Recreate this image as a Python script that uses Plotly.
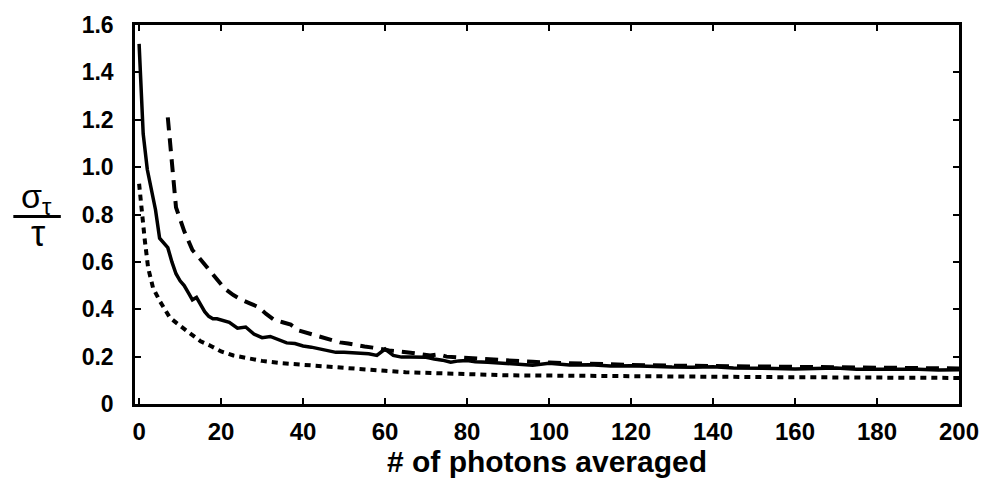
import plotly.graph_objects as go

# ---- data ----
solid_x = [0, 1, 2, 3, 4, 5, 6, 7, 8, 9, 10, 11, 12, 13, 14, 15, 16, 17, 18, 19, 20,
           22, 24, 26, 28, 30, 32, 34, 36, 38, 40, 42, 44, 46, 48, 50, 52, 54, 56, 58,
           60, 62, 64, 66, 68, 70, 72, 74, 76, 78, 80, 82, 85, 88, 92, 96, 100, 105,
           110, 115, 120, 125, 130, 135, 140, 145, 150, 155, 160, 165, 170, 175, 180,
           185, 190, 195, 200]
solid_y = [1.52, 1.14, 0.99, 0.90, 0.82, 0.70, 0.68, 0.66, 0.60, 0.55, 0.52, 0.50, 0.47,
           0.44, 0.45, 0.42, 0.39, 0.37, 0.36, 0.36, 0.355, 0.345, 0.32, 0.325, 0.295,
           0.28, 0.285, 0.27, 0.258, 0.255, 0.245, 0.24, 0.232, 0.225, 0.218, 0.218,
           0.215, 0.214, 0.212, 0.205, 0.232, 0.205, 0.198, 0.198, 0.196, 0.197, 0.19,
           0.185, 0.176, 0.182, 0.184, 0.178, 0.176, 0.172, 0.17, 0.164, 0.172, 0.165,
           0.166, 0.16, 0.162, 0.158, 0.156, 0.155, 0.157, 0.152, 0.152, 0.15, 0.148,
           0.15, 0.152, 0.147, 0.148, 0.146, 0.147, 0.144, 0.145]

dash_x = [7, 8, 8.5, 9, 11, 13, 15, 17, 19, 21, 23, 25, 27, 29, 31, 33, 35, 37, 39, 41,
          43, 45, 47, 49, 51, 53, 55, 57, 59, 61, 63, 65, 67, 69, 71, 73, 75, 77, 80, 84,
          88, 92, 96, 100, 105, 110, 115, 120, 130, 140, 150, 160, 170, 180, 190, 200]
dash_y = [1.21, 1.02, 0.91, 0.83, 0.73, 0.65, 0.61, 0.57, 0.53, 0.485, 0.46, 0.44, 0.425,
          0.41, 0.38, 0.355, 0.345, 0.335, 0.31, 0.30, 0.29, 0.28, 0.27, 0.26, 0.255,
          0.247, 0.243, 0.238, 0.23, 0.226, 0.223, 0.22, 0.215, 0.21, 0.205, 0.21, 0.2,
          0.197, 0.193, 0.19, 0.186, 0.18, 0.178, 0.175, 0.172, 0.17, 0.166, 0.165,
          0.162, 0.16, 0.158, 0.155, 0.155, 0.153, 0.152, 0.15]

dot_x = [0, 0.7, 1.4, 2.2, 3.4, 5, 7.5, 10, 12.5, 15, 17.5, 20, 23, 26, 30, 35, 40, 45,
         50, 55, 60, 65, 70, 75, 80, 90, 100, 110, 120, 130, 140, 150, 160, 170, 180,
         190, 200]
dot_y = [0.93, 0.80, 0.69, 0.575, 0.49, 0.436, 0.365, 0.33, 0.30, 0.265, 0.245, 0.222,
         0.205, 0.195, 0.182, 0.172, 0.165, 0.157, 0.15, 0.145, 0.14, 0.134, 0.131,
         0.127, 0.123, 0.121, 0.12, 0.118, 0.117, 0.116, 0.115, 0.114, 0.113, 0.112,
         0.111, 0.111, 0.11]

x_ticks = [0, 20, 40, 60, 80, 100, 120, 140, 160, 180, 200]
y_ticks = [0, 0.2, 0.4, 0.6, 0.8, 1.0, 1.2, 1.4, 1.6]
y_tick_text = ["0", "0.2", "0.4", "0.6", "0.8", "1.0", "1.2", "1.4", "1.6"]

FONT = "Liberation Sans, Arial, sans-serif"

fig = go.Figure()
fig.add_trace(go.Scatter(x=dot_x, y=dot_y, mode="lines",
                         line=dict(color="black", width=4, dash="6px,5px")))
fig.add_trace(go.Scatter(x=dash_x, y=dash_y, mode="lines",
                         line=dict(color="black", width=4, dash="13px,8px")))
fig.add_trace(go.Scatter(x=solid_x, y=solid_y, mode="lines",
                         line=dict(color="black", width=3.5)))

L, R, T, B = 135, 23, 22, 82
W, H = 991, 486
pw, ph = W - L - R, H - T - B

def px(x):
    return (x - L) / pw

def py(y):
    return (H - B - y) / ph

fig.update_layout(
    width=W, height=H,
    margin=dict(l=L, r=R, t=T, b=B, pad=0),
    paper_bgcolor="white", plot_bgcolor="white",
    showlegend=False,
    font=dict(family=FONT, color="black"),
    xaxis=dict(range=[-1, 200], tickvals=x_ticks, ticks="inside", ticklen=6,
               tickwidth=2, tickcolor="black", showline=True, linewidth=2.5,
               linecolor="black", mirror="ticks", showgrid=False, zeroline=False,
               tickfont=dict(family=FONT, size=24, weight="bold"),
               ticklabelstandoff=4,
               title=dict(text="<b># of photons averaged</b>",
                          font=dict(family=FONT, size=30), standoff=2)),
    yaxis=dict(range=[0, 1.6], tickvals=y_ticks, ticktext=y_tick_text,
               ticks="inside", ticklen=6, tickwidth=2, tickcolor="black",
               showline=True, linewidth=2.5, linecolor="black", mirror="ticks",
               showgrid=False, zeroline=False,
               tickfont=dict(family=FONT, size=23, weight="bold"),
               ticklabelstandoff=14),
)

fig.add_annotation(text="σ<sub>τ</sub>", x=px(35), y=py(197), xref="paper", yref="paper",
                   showarrow=False, font=dict(family=FONT, size=34),
                   xanchor="center", yanchor="middle")
fig.add_annotation(text="τ", x=px(37), y=py(232), xref="paper", yref="paper",
                   showarrow=False, font=dict(family=FONT, size=36),
                   xanchor="center", yanchor="middle")
fig.add_shape(type="line", xref="paper", yref="paper",
              x0=px(12), x1=px(60), y0=py(215), y1=py(215),
              line=dict(color="black", width=3))

fig.write_html("out.html")
